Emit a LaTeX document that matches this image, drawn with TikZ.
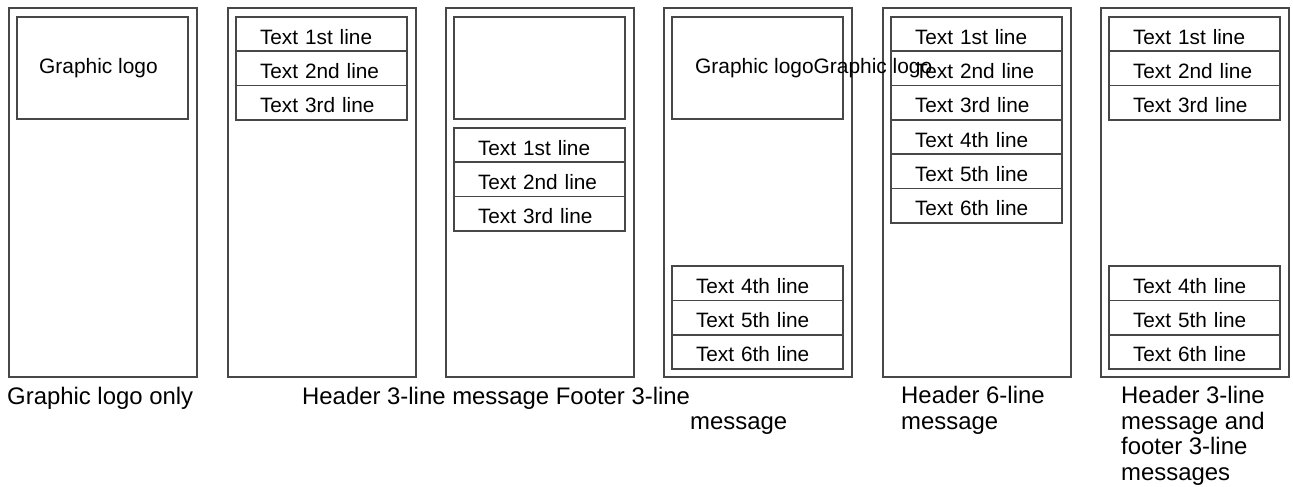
\documentclass[tikz,border=0pt]{standalone}
\usepackage{fontspec}
\setmainfont{Liberation Sans}
\usetikzlibrary{positioning}

\begin{document}
\begin{tikzpicture}[x=1pt,y=-1pt,node distance=0pt,
  boxline/.style={draw=black!72,line width=1.7pt},
  frame/.style={boxline,minimum width=188pt,minimum height=369pt,inner sep=0pt,outer sep=0pt,anchor=north west},
  logobox/.style={boxline,minimum width=171pt,minimum height=102pt,inner sep=0pt,outer sep=0pt},
  logotext/.style={inner sep=0pt,font=\fontsize{20.9}{24}\selectfont},
  row/.style={boxline,text width=171pt,minimum height=34.3pt,inner xsep=0pt,inner ysep=0pt,outer sep=0pt,
    text height=20pt,text depth=0pt,
    align=left,font=\fontsize{20.8}{24}\selectfont,execute at begin node=\hspace*{24pt}},
  caption/.style={inner sep=0pt,anchor=base west,align=left,font=\fontsize{23.9}{25.5}\selectfont}]

\useasboundingbox (0,0) rectangle (1293,487);

% phone frames
\foreach \i/\x in {1/9,2/228,3/446,4/664,5/883,6/1101}
  \node[frame] (f\i) at (\x,8) {};

% graphic logo only
\node[logobox,below right=9pt and 8pt of f1.north west] (logo1) {};
\node[logotext,right=22pt of logo1.west] (logotext1) {Graphic logo};

% header 3 lines
\node[row,below right=9pt and 8pt of f2.north west] (p2r1) {Text 1st line};
\node[row,below=of p2r1] (p2r2) {Text 2nd line};
\node[row,below=of p2r2] (p2r3) {Text 3rd line};

% logo + 3 lines
\node[logobox,below right=9pt and 8pt of f3.north west] (logo3) {};
\node[row,below=9pt of logo3] (p3r1) {Text 1st line};
\node[row,below=of p3r1] (p3r2) {Text 2nd line};
\node[row,below=of p3r2] (p3r3) {Text 3rd line};

% logo + footer
\node[logobox,below right=9pt and 8pt of f4.north west] (logo4) {};
\node[logotext,right=23pt of logo4.west] (logotext4) {Graphic logoGraphic logo};
\node[row,above right=8pt and 8pt of f4.south west] (p4r6) {Text 6th line};
\node[row,above=of p4r6] (p4r5) {Text 5th line};
\node[row,above=of p4r5] (p4r4) {Text 4th line};

% header 6 lines
\node[row,below right=9pt and 8pt of f5.north west] (p5r1) {Text 1st line};
\foreach \j/\k/\nth in {2/1/2nd,3/2/3rd,4/3/4th,5/4/5th,6/5/6th}
  \node[row,below=of p5r\k] (p5r\j) {Text \nth\ line};

% header + footer
\node[row,below right=9pt and 8pt of f6.north west] (p6r1) {Text 1st line};
\node[row,below=of p6r1] (p6r2) {Text 2nd line};
\node[row,below=of p6r2] (p6r3) {Text 3rd line};
\node[row,above right=8pt and 8pt of f6.south west] (p6r6) {Text 6th line};
\node[row,above=of p6r6] (p6r5) {Text 5th line};
\node[row,above=of p6r5] (p6r4) {Text 4th line};

% captions (base = last line)
\node[caption] (cap1) at (7,404) {Graphic logo only};
\node[caption] (cap2) at (302,404) {Header 3-line message Footer 3-line};
\node[caption] (cap3) at (690,429) {message};
\node[caption] (cap5) at (901,429) {Header 6-line\\message};
\node[caption] (cap6) at (1121,480) {Header 3-line\\message and\\footer 3-line\\messages};
\end{tikzpicture}
\end{document}
